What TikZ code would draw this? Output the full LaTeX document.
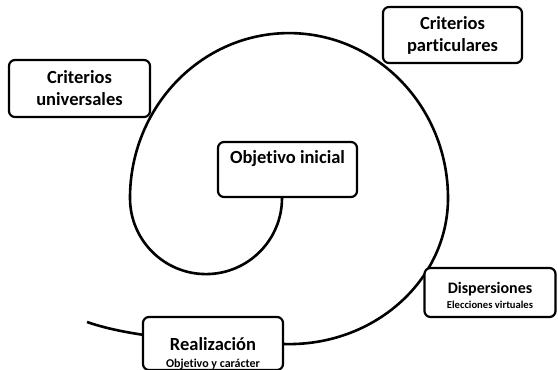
\documentclass[tikz,border=0pt]{standalone}
\usepackage{fontspec}
\setmainfont{Carlito}[Ligatures=NoCommon]
\usetikzlibrary{backgrounds}

\begin{document}
\begin{tikzpicture}[x=1pt, y=1pt, line width=2.2pt,
		caja/.style={
			rectangle, rounded corners=6pt, fill=white, draw=black,
			font=\bfseries\fontsize{18.5}{22}\selectfont, align=center,
			inner sep=0pt
		}]
		\useasboundingbox (0,0) rectangle (558,370);

		\node[caja, minimum width=139pt, minimum height=55pt,
			text height=22pt, text depth=33pt] (obj) at (287.5,200.5) {Objetivo inicial};

		\node[caja, minimum width=141pt, minimum height=57pt] (CU) at (79.5,281.5)
			{Criterios\\universales};
		\node[caja, minimum width=139pt, minimum height=56pt] (CP) at (452.5,335)
			{Criterios\\particulares};

		\node[caja, minimum width=131pt, minimum height=49pt,
			font=\bfseries\fontsize{16}{20}\selectfont] (D) at (490,77.5)
			{\rule{0pt}{17pt}Dispersiones\\[-5pt]{\fontsize{10.6}{13}\selectfont Elecciones virtuales}};
		\node[caja, minimum width=140pt, minimum height=49pt] (R) at (213,26.5)
			{\rule{0pt}{34pt}Realización\\[-5pt]{\fontsize{12}{14}\selectfont Objetivo y carácter}};

		% espiral
		\begin{scope}[on background layer]
			\draw[line width=2.6pt] ([xshift=-5.5pt]obj.south) arc[start angle=0, end angle=-180, radius=76]
				arc[start angle=180, end angle=0, x radius=159, y radius=165]
				arc[start angle=0, end angle=-90, x radius=159, y radius=146]
				.. controls (200,27) and (130,33) .. (87,48);
		\end{scope}
	\end{tikzpicture}
\end{document}
